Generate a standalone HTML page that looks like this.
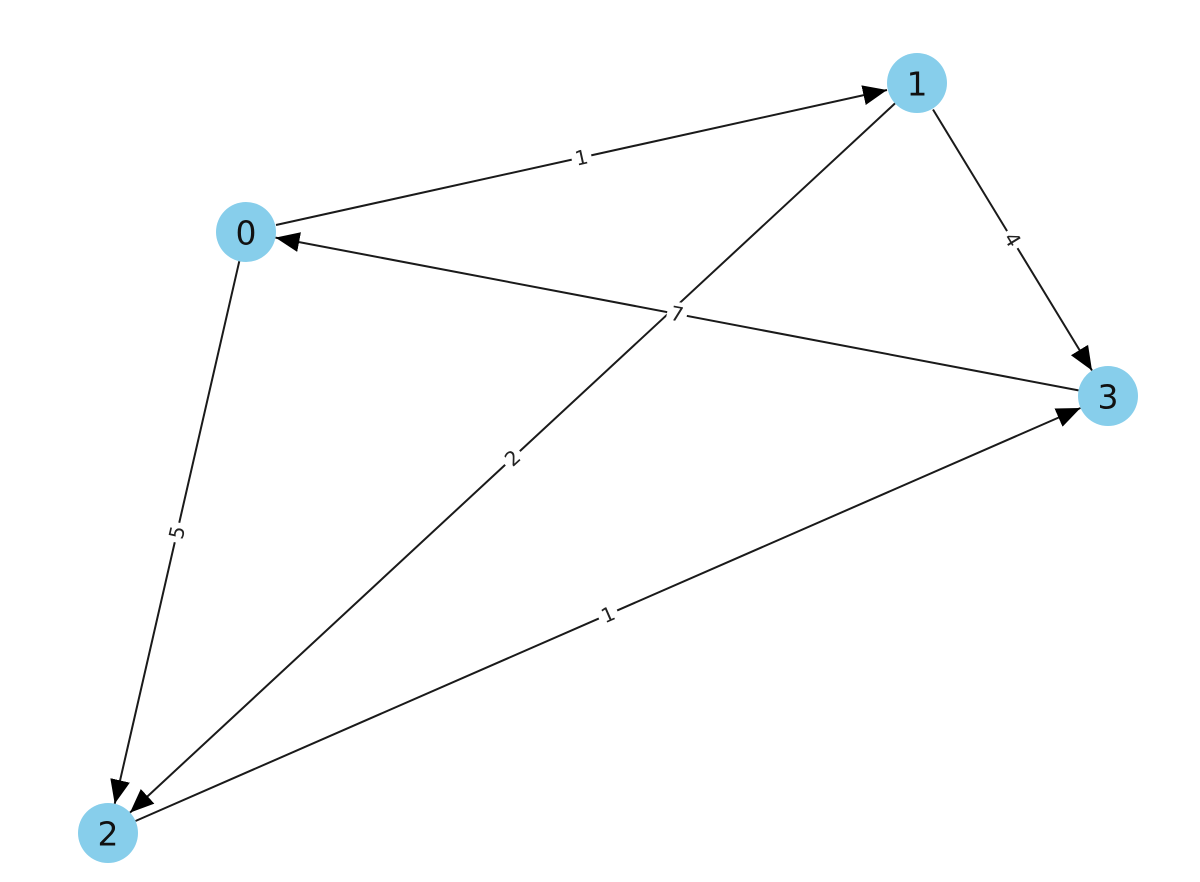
<!DOCTYPE html>
<html><head><meta charset="utf-8"><style>html,body{margin:0;padding:0;background:#fff}svg{display:block}</style></head>
<body>
<svg width="1200" height="882" viewBox="0 0 1200 882" xmlns="http://www.w3.org/2000/svg">
<defs>
<marker id="a" markerUnits="userSpaceOnUse" markerWidth="26" markerHeight="22" refX="24" refY="11" orient="auto">
<path d="M0,1 L24,11 L0,21 Z" fill="#000"/>
</marker>
</defs>
<g stroke="#1a1a1a" stroke-width="2" fill="none" marker-end="url(#a)">
<line x1="276" y1="225" x2="887" y2="90"/>
<line x1="933" y1="109.5" x2="1092" y2="370.5"/>
<line x1="1078.5" y1="390.4" x2="275.5" y2="237.6"/>
<line x1="239.3" y1="261.2" x2="114.7" y2="803.8"/>
<line x1="895" y1="103.4" x2="130" y2="812.6"/>
<line x1="135.5" y1="821" x2="1080.5" y2="408"/>
</g>
<g font-family="'DejaVu Sans','Liberation Sans',sans-serif" font-size="20" fill="#222" text-anchor="middle" dominant-baseline="central">
<g transform="translate(581.5,157.5) rotate(-12.5)"><rect x="-10" y="-12" width="20" height="24" fill="#fff"/><text>1</text></g>
<g transform="translate(1012.5,239.5) rotate(58.6)"><rect x="-10" y="-12" width="20" height="24" fill="#fff"/><text>4</text></g>
<g transform="translate(677,314) rotate(10.8)"><rect x="-10" y="-12" width="20" height="24" fill="#fff"/><text>7</text></g>
<g transform="translate(177,532.5) rotate(-77.1)"><rect x="-10" y="-12" width="20" height="24" fill="#fff"/><text>5</text></g>
<g transform="translate(512.5,458) rotate(-42.8)"><rect x="-10" y="-12" width="20" height="24" fill="#fff"/><text>2</text></g>
<g transform="translate(608,614.5) rotate(-23.6)"><rect x="-10" y="-12" width="20" height="24" fill="#fff"/><text>1</text></g>
</g>
<g fill="#87ceeb">
<circle cx="246" cy="232" r="30"/>
<circle cx="917" cy="83" r="30"/>
<circle cx="108" cy="833" r="30"/>
<circle cx="1108" cy="396" r="30"/>
</g>
<g font-family="'DejaVu Sans','Liberation Sans',sans-serif" font-size="33" fill="#111" text-anchor="middle" dominant-baseline="central">
<text x="246" y="233">0</text>
<text x="917" y="84">1</text>
<text x="108" y="834">2</text>
<text x="1108" y="397">3</text>
</g>
</svg>
</body></html>
